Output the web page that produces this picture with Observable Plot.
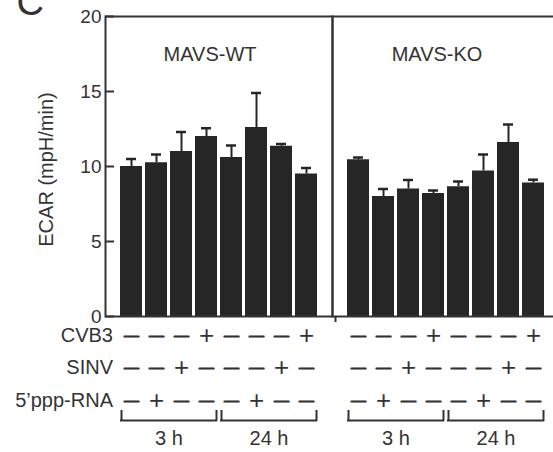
<!DOCTYPE html>
<html>
<head>
<meta charset="utf-8">
<script src="https://cdn.jsdelivr.net/npm/d3@7"></script>
<script src="https://cdn.jsdelivr.net/npm/@observablehq/plot@0.6"></script>
<style>
  html, body { margin: 0; padding: 0; background: #fff; }
  #chart svg { display: block; }
</style>
</head>
<body>
<div id="chart"></div>
<script>
// ---- data ----
const panels = ["MAVS-WT", "MAVS-KO"];
const conditions = ["3h-mock", "3h-ppp", "3h-SINV", "3h-CVB3", "24h-mock", "24h-ppp", "24h-SINV", "24h-CVB3"];
const wtMean = [10.0, 10.25, 11.0, 12.0, 10.6, 12.6, 11.35, 9.5];
const wtSem  = [0.5, 0.55, 1.3, 0.55, 0.8, 2.3, 0.15, 0.4];
const koMean = [10.45, 8.0, 8.5, 8.2, 8.65, 9.7, 11.6, 8.9];
const koSem  = [0.15, 0.5, 0.6, 0.2, 0.35, 1.1, 1.2, 0.22];
const cvb3Signs = ["—", "—", "—", "+", "—", "—", "—", "+"];
const sinvSigns = ["—", "—", "+", "—", "—", "—", "+", "—"];
const pppSigns  = ["—", "+", "—", "—", "—", "+", "—", "—"];
const rowLabels = ["CVB3", "SINV", "5’ppp-RNA"];
const timeGroups = [
  {label: "3 h", first: "3h-mock", second: "3h-ppp", last: "3h-CVB3"},
  {label: "24 h", first: "24h-mock", second: "24h-ppp", last: "24h-CVB3"}
];
const yTicks = [0, 5, 10, 15, 20];
const yLabel = "ECAR (mpH/min)";
const panelLetter = "C";

// ---- tables built from arrays ----
const bars = [];
panels.forEach((p, pi) => {
  const m = pi === 0 ? wtMean : koMean;
  const s = pi === 0 ? wtSem : koSem;
  conditions.forEach((c, i) => bars.push({panel: p, cond: c, value: m[i], upper: m[i] + s[i]}));
});
const signRows = [cvb3Signs, sinvSigns, pppSigns];
const signs = [];
panels.forEach(p => signRows.forEach((row, r) => row.forEach((s, i) =>
  signs.push({panel: p, cond: conditions[i], row: r, text: s}))));
const brackets = [];
panels.forEach(p => timeGroups.forEach(g => brackets.push({panel: p, ...g})));

const ink = "#262626";
const lineInk = "#333";
const rowDy = [19, 51.5, 84];
const xInsetLeft = 12;

function build(bw, step) {
  const capInset = Math.max(0, (bw - 10) / 2);
  return Plot.plot({
    width: 553,
    height: 452,
    marginLeft: 104,
    marginRight: -6,
    marginTop: 16,
    marginBottom: 136,
    style: {fontFamily: "'Liberation Sans', Arial, sans-serif", color: lineInk, background: "#fff"},
    fx: {domain: panels, padding: 0, axis: null, label: null},
    x: {domain: conditions, paddingInner: 0.11, paddingOuter: 0, insetLeft: xInsetLeft, insetRight: 12.5, axis: null},
    y: {domain: [0, 20], axis: null},
    marks: [
      Plot.barY(bars, {fx: "panel", x: "cond", y: "value", fill: ink}),
      Plot.ruleX(bars, {fx: "panel", x: "cond", y1: "value", y2: "upper", stroke: ink, strokeWidth: 2}),
      Plot.tickY(bars, {fx: "panel", x: "cond", y: "upper", stroke: ink, strokeWidth: 2.5, insetLeft: capInset, insetRight: capInset}),
      Plot.frame({stroke: lineInk, strokeWidth: 2}),
      // small notch of the divider below the baseline
      Plot.ruleX([panels[1]], {fx: d => d, x: () => conditions[0], dx: -bw / 2 - xInsetLeft, insetTop: 300, insetBottom: -6, stroke: lineInk, strokeWidth: 2}),
      Plot.axisY({ticks: yTicks, tickSize: 9, dx: 9, tickPadding: 4, fontSize: 19, label: null, stroke: lineInk, strokeWidth: 2}),
      // y label
      Plot.text([yLabel], {fx: () => panels[0], frameAnchor: "left", textAnchor: "middle", lineAnchor: "middle", rotate: -90, dx: -59, dy: 3, fontSize: 20, fill: lineInk}),
      // panel letter
      Plot.text([panelLetter], {fx: () => panels[0], frameAnchor: "top-left", textAnchor: "start", lineAnchor: "bottom", dx: -89, dy: -1.5, fontSize: 38, fill: lineInk}),
      // panel titles
      Plot.text(panels, {fx: d => d, text: d => d, frameAnchor: "top", lineAnchor: "middle", dx: -9, dy: 38.5, fontSize: 20, fill: lineInk}),
      // row labels
      ...rowLabels.map((lab, r) => Plot.text([lab], {fx: () => panels[0], frameAnchor: "bottom-left", textAnchor: "end", lineAnchor: "middle", dx: 7.5, dy: rowDy[r], fontSize: 20, fill: lineInk})),
      // plus signs
      ...rowDy.map((dy, r) => Plot.text(signs.filter(d => d.row === r && d.text === "+"), {fx: "panel", x: "cond", text: "text", frameAnchor: "bottom", lineAnchor: "middle", dy, fontSize: 26, fill: lineInk})),
      // minus signs
      ...rowDy.map((dy, r) => Plot.text(signs.filter(d => d.row === r && d.text !== "+"), {fx: "panel", x: "cond", text: "text", frameAnchor: "bottom", lineAnchor: "middle", dy: dy - 0.5, fontSize: 15, fill: lineInk, stroke: lineInk, strokeWidth: 1})),
      // brackets
      Plot.ruleY(brackets, {fx: "panel", x1: "first", x2: "last", y: () => 0, dy: 104, stroke: lineInk, strokeWidth: 2}),
      Plot.ruleX(brackets, {fx: "panel", x: "first", dx: -bw / 2 + 1, insetTop: 394, insetBottom: -105, stroke: lineInk, strokeWidth: 2}),
      Plot.ruleX(brackets, {fx: "panel", x: "last", dx: bw / 2 - 1, insetTop: 394, insetBottom: -105, stroke: lineInk, strokeWidth: 2}),
      Plot.text(brackets, {fx: "panel", x: "second", text: "label", dx: step / 2, frameAnchor: "bottom", lineAnchor: "middle", dy: 122, fontSize: 20, fill: lineInk})
    ]
  });
}

const probe = build(23, 25.7);
const xs = probe.scale("x");
const chart = build(xs.bandwidth, xs.step);
document.getElementById("chart").appendChild(chart);
</script>
</body>
</html>
